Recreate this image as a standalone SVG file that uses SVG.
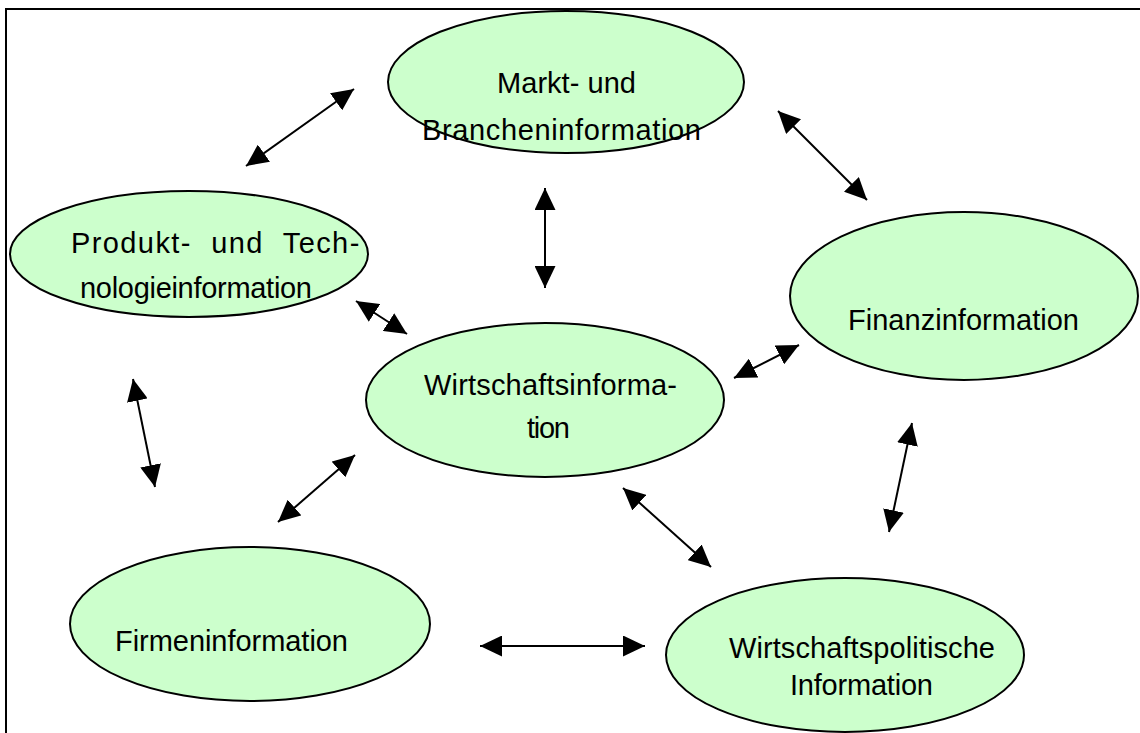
<svg xmlns="http://www.w3.org/2000/svg" width="1140" height="733" viewBox="0 0 1140 733">
<style>
.n{fill:#ccffcc;stroke:#000;stroke-width:2}
.t{font-family:"Liberation Sans",Arial,sans-serif;font-size:29px;fill:#000}
.c{stroke:#000;stroke-width:2;fill:none;marker-start:url(#ah);marker-end:url(#ah)}
</style>
<defs>
<marker id="ah" viewBox="0 0 10 10" refX="10" refY="5" markerWidth="22" markerHeight="21" markerUnits="userSpaceOnUse" orient="auto-start-reverse" preserveAspectRatio="none">
<path d="M0,0 L10,5 L0,10 Z" fill="#000"/>
</marker>
</defs>
<rect width="1140" height="733" fill="#fff"/>
<rect x="6" y="9" width="1150" height="740" fill="none" stroke="#000" stroke-width="2"/>
<g id="markt"><ellipse class="n" cx="566" cy="82" rx="178" ry="71"/><text class="t" x="497" y="93" textLength="139">Markt- und</text><text class="t" x="422" y="140" textLength="279">Brancheninformation</text></g>
<g id="produkt"><ellipse class="n" cx="189" cy="254" rx="179" ry="63"/><text class="t" x="71" y="253" word-spacing="10" letter-spacing="1.4">Produkt- und Tech-</text><text class="t" x="80" y="298" textLength="232">nologieinformation</text></g>
<g id="finanz"><ellipse class="n" cx="964" cy="296" rx="174" ry="84"/><text class="t" x="848" y="330" textLength="231">Finanzinformation</text></g>
<g id="wirtschaft"><ellipse class="n" cx="545" cy="400" rx="179" ry="77"/><text class="t" x="424" y="395" textLength="253">Wirtschaftsinforma-</text><text class="t" x="527" y="438" textLength="43">tion</text></g>
<g id="firmen"><ellipse class="n" cx="250" cy="624" rx="180" ry="77"/><text class="t" x="115" y="651" textLength="233">Firmeninformation</text></g>
<g id="politik"><ellipse class="n" cx="845" cy="655" rx="179" ry="77"/><text class="t" x="729" y="658" textLength="266">Wirtschaftspolitische</text><text class="t" x="790" y="695" textLength="143">Information</text></g>
<g id="connectors">
<line class="c" x1="246" y1="166" x2="354" y2="89"/>
<line class="c" x1="778" y1="111" x2="867" y2="200"/>
<line class="c" x1="545" y1="188" x2="545" y2="288"/>
<line class="c" x1="356" y1="301" x2="407" y2="334"/>
<line class="c" x1="734" y1="378" x2="799" y2="345"/>
<line class="c" x1="133" y1="379" x2="155" y2="487"/>
<line class="c" x1="278" y1="522" x2="355" y2="455"/>
<line class="c" x1="912" y1="423" x2="889" y2="532"/>
<line class="c" x1="623" y1="488" x2="711" y2="567"/>
<line class="c" x1="480" y1="646" x2="645" y2="646"/>
</g>
</svg>
